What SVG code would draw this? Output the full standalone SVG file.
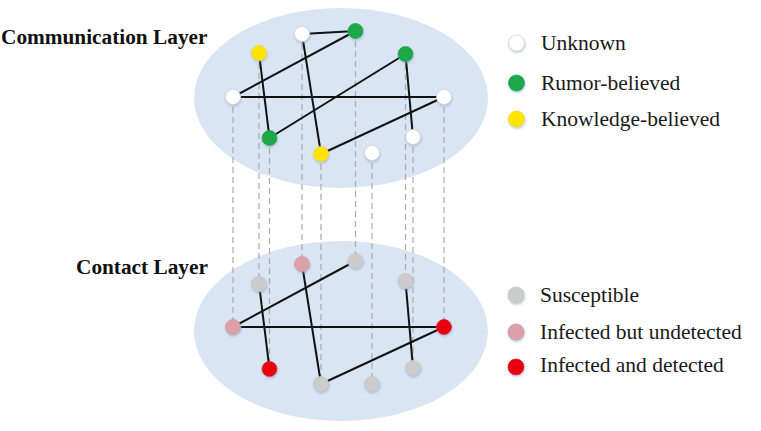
<svg xmlns="http://www.w3.org/2000/svg" width="761" height="431" viewBox="0 0 761 431">
<defs>
<filter id="sh" x="-50%" y="-50%" width="200%" height="200%">
<feDropShadow dx="0.5" dy="1.5" stdDeviation="1.2" flood-color="#7f9cc8" flood-opacity="0.55"/>
</filter>
</defs>
<style>
.layer{fill:#d9e5f3}
.dash{stroke:#aaaaaa;stroke-width:1.2;stroke-dasharray:6 4;fill:none}
.edge{stroke:#111111;stroke-width:2;fill:none}
.n{stroke-width:0.8;filter:url(#sh)}
.unk{fill:#ffffff;stroke:#d6d6d6}
.rum{fill:#1fa84a;stroke:#1fa84a}
.kno{fill:#ffe500;stroke:#f2d800}
.sus{fill:#cccccc;stroke:#c6c6c6}
.iu{fill:#dba0a8;stroke:#d49aa2}
.idt{fill:#e8000b;stroke:#e0000a}
.title{font-family:"Liberation Serif","Times New Roman",serif;font-weight:bold;font-size:21.3px;fill:#111}
.leg{font-family:"Liberation Serif","Times New Roman",serif;font-size:21.5px;fill:#1a1a1a}
</style>
<rect width="761" height="431" fill="#ffffff"/>
<ellipse id="comm-layer" class="layer" cx="341" cy="98" rx="147" ry="90"/>
<ellipse id="contact-layer" class="layer" cx="341" cy="331" rx="147" ry="90"/>
<text class="title" x="1" y="44">Communication Layer</text>
<text class="title" x="76" y="274">Contact Layer</text>
<g id="connectors">
<g id="interlayer">
<line class="dash" x1="233" y1="97" x2="233" y2="327"/>
<line class="dash" x1="259" y1="53" x2="259" y2="284"/>
<line class="dash" x1="269.5" y1="138" x2="269.5" y2="369"/>
<line class="dash" x1="302" y1="34" x2="302" y2="264"/>
<line class="dash" x1="321" y1="154" x2="321" y2="384"/>
<line class="dash" x1="355.5" y1="31" x2="355.5" y2="261"/>
<line class="dash" x1="372" y1="153" x2="372" y2="384"/>
<line class="dash" x1="405.5" y1="54" x2="405.5" y2="281"/>
<line class="dash" x1="413" y1="137" x2="413" y2="368"/>
<line class="dash" x1="444" y1="97" x2="444" y2="327"/>
</g>
<g id="comm-edges">
<line class="edge" x1="302" y1="34" x2="355.5" y2="31"/>
<line class="edge" x1="355.5" y1="31" x2="233" y2="97"/>
<line class="edge" x1="259" y1="53" x2="269.5" y2="138"/>
<line class="edge" x1="302" y1="34" x2="321" y2="154"/>
<line class="edge" x1="405.5" y1="54" x2="269.5" y2="138"/>
<line class="edge" x1="233" y1="97" x2="444" y2="97"/>
<line class="edge" x1="405.5" y1="54" x2="413" y2="137"/>
<line class="edge" x1="444" y1="97" x2="321" y2="154"/>
</g>
<g id="contact-edges">
<line class="edge" x1="355.5" y1="261" x2="233" y2="327"/>
<line class="edge" x1="259" y1="284" x2="269.5" y2="369"/>
<line class="edge" x1="302" y1="264" x2="321" y2="384"/>
<line class="edge" x1="233" y1="327" x2="444" y2="327"/>
<line class="edge" x1="405.5" y1="281" x2="413" y2="368"/>
<line class="edge" x1="444" y1="327" x2="321" y2="384"/>
</g>
</g>
<g id="c1"><circle class="n unk" cx="302" cy="34" r="7.5"/></g>
<g id="c2"><circle class="n rum" cx="355.5" cy="31" r="7.5"/></g>
<g id="c3"><circle class="n kno" cx="259" cy="53" r="7.5"/></g>
<g id="c4"><circle class="n rum" cx="405.5" cy="54" r="7.5"/></g>
<g id="c5"><circle class="n unk" cx="233" cy="97" r="7.5"/></g>
<g id="c6"><circle class="n unk" cx="444" cy="97" r="7.5"/></g>
<g id="c7"><circle class="n rum" cx="269.5" cy="138" r="7.5"/></g>
<g id="c8"><circle class="n unk" cx="413" cy="137" r="7.5"/></g>
<g id="c9"><circle class="n kno" cx="321" cy="154" r="7.5"/></g>
<g id="c10"><circle class="n unk" cx="372" cy="153" r="7.5"/></g>
<g id="p1"><circle class="n iu" cx="302" cy="264" r="7.5"/></g>
<g id="p2"><circle class="n sus" cx="355.5" cy="261" r="7.5"/></g>
<g id="p3"><circle class="n sus" cx="259" cy="284" r="7.5"/></g>
<g id="p4"><circle class="n sus" cx="405.5" cy="281" r="7.5"/></g>
<g id="p5"><circle class="n iu" cx="233" cy="327" r="7.5"/></g>
<g id="p6"><circle class="n idt" cx="444" cy="327" r="7.5"/></g>
<g id="p7"><circle class="n idt" cx="269.5" cy="369" r="7.5"/></g>
<g id="p8"><circle class="n sus" cx="413" cy="368" r="7.5"/></g>
<g id="p9"><circle class="n sus" cx="321" cy="384" r="7.5"/></g>
<g id="p10"><circle class="n sus" cx="372" cy="384" r="7.5"/></g>
<g id="legend">
<circle class="n unk" cx="516.5" cy="43" r="8"/>
<text class="leg" x="541" y="50">Unknown</text>
<circle class="n rum" cx="516.5" cy="83" r="8"/>
<text class="leg" x="541" y="90">Rumor-believed</text>
<circle class="n kno" cx="516.5" cy="119" r="8"/>
<text class="leg" x="541" y="126">Knowledge-believed</text>
<circle class="n sus" cx="516" cy="295" r="8"/>
<text class="leg" x="540" y="302">Susceptible</text>
<circle class="n iu" cx="516" cy="332" r="8"/>
<text class="leg" x="540" y="339">Infected but undetected</text>
<circle class="n idt" cx="516" cy="367" r="8"/>
<text class="leg" x="540" y="372">Infected and detected</text>
</g>
</svg>
